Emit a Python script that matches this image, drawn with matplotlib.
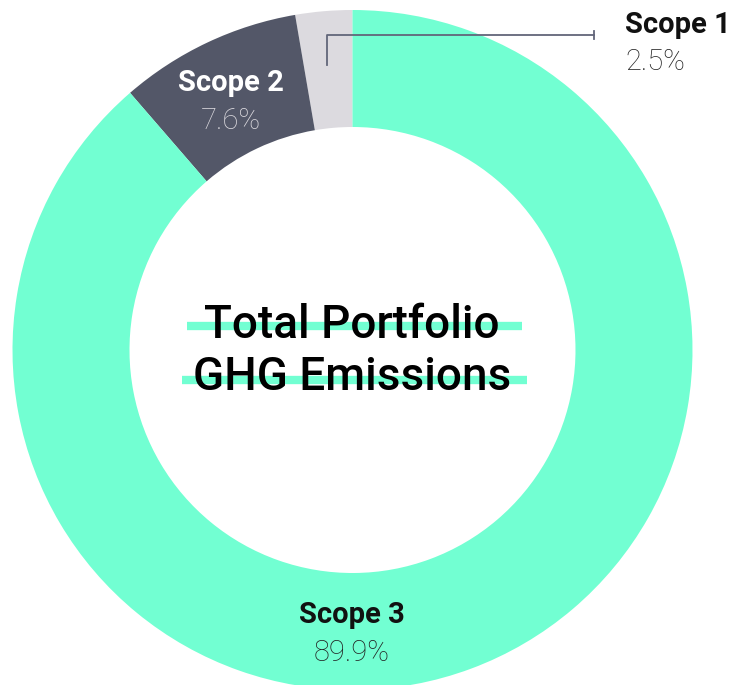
import matplotlib.pyplot as plt

# data
labels = ["Scope 1", "Scope 2", "Scope 3"]
pct_labels = [2.5, 7.6, 89.9]          # printed values
arc_shares = [2.7, 8.65, 88.65]        # wedge sizes as drawn in the picture
colors = ["#dcdadf", "#535768", "#72ffd2"]
center_title = ["Total Portfolio", "GHG Emissions"]

W, H = 735, 685


def Y(py):
    # pixel row (from top) to data y
    return H - py


fig = plt.figure(figsize=(W / 100, H / 100), dpi=100)
ax = fig.add_axes([0, 0, 1, 1])

cx, cy, r_out, r_in = 352.5, 350, 340, 223
ax.pie(arc_shares, colors=colors, startangle=90, counterclock=True,
       center=(cx, Y(cy)), radius=r_out,
       wedgeprops=dict(width=r_out - r_in, linewidth=0))

ax.set_xlim(0, W)
ax.set_ylim(0, H)
ax.set_aspect("equal")
ax.axis("off")

bold = dict(family="Roboto", fontweight="bold")
light = dict(family="Roboto", fontweight="light")

# Scope 1 with leader line
ax.plot([327, 327, 594], [Y(65), Y(35), Y(35)], color="#62667a", lw=1.3)
ax.plot([594, 594], [Y(31), Y(39)], color="#62667a", lw=1.3)
ax.text(625, Y(25), labels[0], fontsize=21, color="#111111", ha="left", va="center", **bold)
ax.text(625, Y(62), f"{pct_labels[0]}%", fontsize=21, color="#222222", ha="left", va="center", **light)

# Scope 2 inside wedge
ax.text(231, Y(83), labels[1], fontsize=21, color="white", ha="center", va="center", **bold)
ax.text(231, Y(121), f"{pct_labels[1]}%", fontsize=21, color="#dcdadf", ha="center", va="center", **light)

# Scope 3
ax.text(352, Y(615), labels[2], fontsize=21, color="#111111", ha="center", va="center", **bold)
ax.text(352, Y(653), f"{pct_labels[2]}%", fontsize=21, color="#222222", ha="center", va="center", **light)

# centre title with mint highlight bars
ax.plot([187, 522], [Y(326), Y(326)], color="#72ffd2", lw=6, solid_capstyle="butt", zorder=3)
ax.plot([182, 527], [Y(380), Y(380)], color="#72ffd2", lw=6, solid_capstyle="butt", zorder=3)
ax.text(352, Y(325), center_title[0], fontsize=33, color="black", ha="center", va="center",
        zorder=4, family="Roboto", fontweight="medium")
ax.text(352, Y(377), center_title[1], fontsize=33, color="black", ha="center", va="center",
        zorder=4, family="Roboto", fontweight="medium")

fig.savefig("out.png", dpi=100)
